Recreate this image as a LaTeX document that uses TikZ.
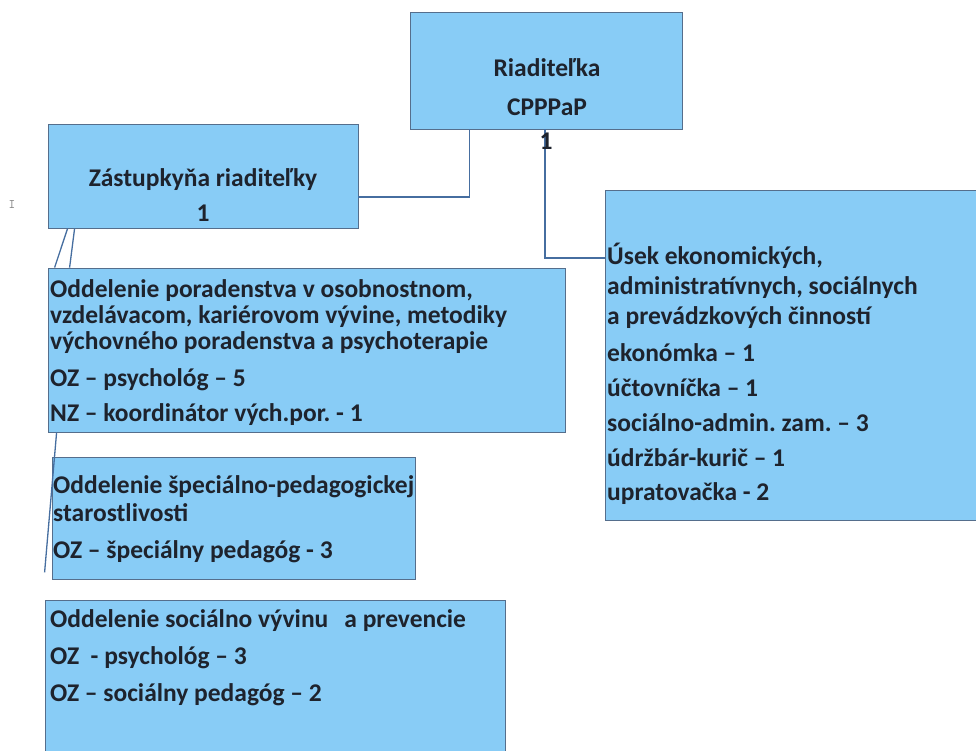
\documentclass[tikz,border=0pt]{standalone}
\usepackage{fontspec}
\setmainfont{Carlito}
\usepackage{tikz}
\usetikzlibrary{calc}

\definecolor{modra}{RGB}{136,204,246}
\definecolor{okraj}{RGB}{85,110,140}
\definecolor{spojnica}{RGB}{70,110,160}
\definecolor{pismo}{RGB}{30,35,45}

\tikzset{
  krabica/.style={rectangle, draw=okraj, fill=modra, line width=0.8pt, inner sep=0pt},
  popis/.style={font=\fontsize{25.5}{26}\selectfont\bfseries\frenchspacing, text=pismo, inner sep=0pt, align=left},
  ciara/.style={draw=spojnica, line width=1.3pt},
}

\begin{document}
\begin{tikzpicture}[x=1pt,y=-1pt]
    \useasboundingbox (0,0) rectangle (976,751);

    \draw (546,70.5) node[krabica, minimum width=272, minimum height=117] (riaditelka) {};
    \draw (203,176) node[krabica, minimum width=310, minimum height=104] (zastupkyna) {};
    \draw (795,355) node[krabica, minimum width=380, minimum height=330] (usek) {};
    \draw (306.5,350) node[krabica, minimum width=517, minimum height=164] (oddelenie1) {};
    \draw (233.5,518) node[krabica, minimum width=363, minimum height=122] (oddelenie2) {};
    \draw (275,685) node[krabica, minimum width=460, minimum height=170] (oddelenie3) {};

    \draw (547,87.5) node[popis, align=center] (riaditelkaT) {Riaditeľka\\[13pt]CPPPaP};
    \draw (203,195.5) node[popis, align=center] (zastupkynaT) {Zástupkyňa riaditeľky\\[9pt]1};
    \draw (607,374) node[popis, anchor=west] (usekT) {Úsek ekonomických,\\[4pt]administratívnych, sociálnych\\[4pt]a prevádzkových činností\\[11pt]ekonómka – 1\\[9pt]účtovníčka – 1\\[9pt]sociálno-admin. zam. – 3\\[9pt]údržbár-kurič – 1\\[8pt]upratovačka - 2};
    \draw (50,353) node[popis, anchor=west] (oddelenie1T) {Oddelenie poradenstva v osobnostnom,\\vzdelávacom, kariérovom vývine, metodiky\\výchovného poradenstva a psychoterapie\\[11pt]OZ – psychológ – 5\\[9pt]NZ – koordinátor vých.por. - 1};
    \draw (53,519.5) node[popis, anchor=west] (oddelenie2T) {Oddelenie špeciálno-pedagogickej\\[2pt]starostlivosti\\[11pt]OZ – špeciálny pedagóg - 3};
    \draw (50,658) node[popis, anchor=west] (oddelenie3T) {Oddelenie sociálno vývinu\hspace{16pt}a prevencie\\[11pt]OZ\ \ - psychológ – 3\\[11pt]OZ – sociálny pedagóg – 2};

    \draw (12,205) node[text=gray, font=\ttfamily\fontsize{13}{13}\selectfont] (kurzor) {I};

    % spojnice
    \path[ciara] ($(riaditelka.south west)+(60,0)$) |- ($(zastupkyna.east)+(0,21)$);
    \path[ciara] ($(riaditelka.south)+(-1,0)$) |- ($(usek.west)+(0,-97)$);
    \path[ciara] ($(zastupkyna.south west)+(20,0)$) edge ($(oddelenie1.north west)+(7,0)$);
    \path[ciara] ($(zastupkyna.south west)+(27,0)$) edge ($(oddelenie1.north west)+(22,0)$);
    \path[ciara] ($(oddelenie1.south west)+(9,0)$) edge ($(oddelenie2.south west)+(-7,-7)$);

    \draw ($(riaditelka.south)+(0,12)$) node[popis] (jedna) {1};

\end{tikzpicture}
\end{document}
